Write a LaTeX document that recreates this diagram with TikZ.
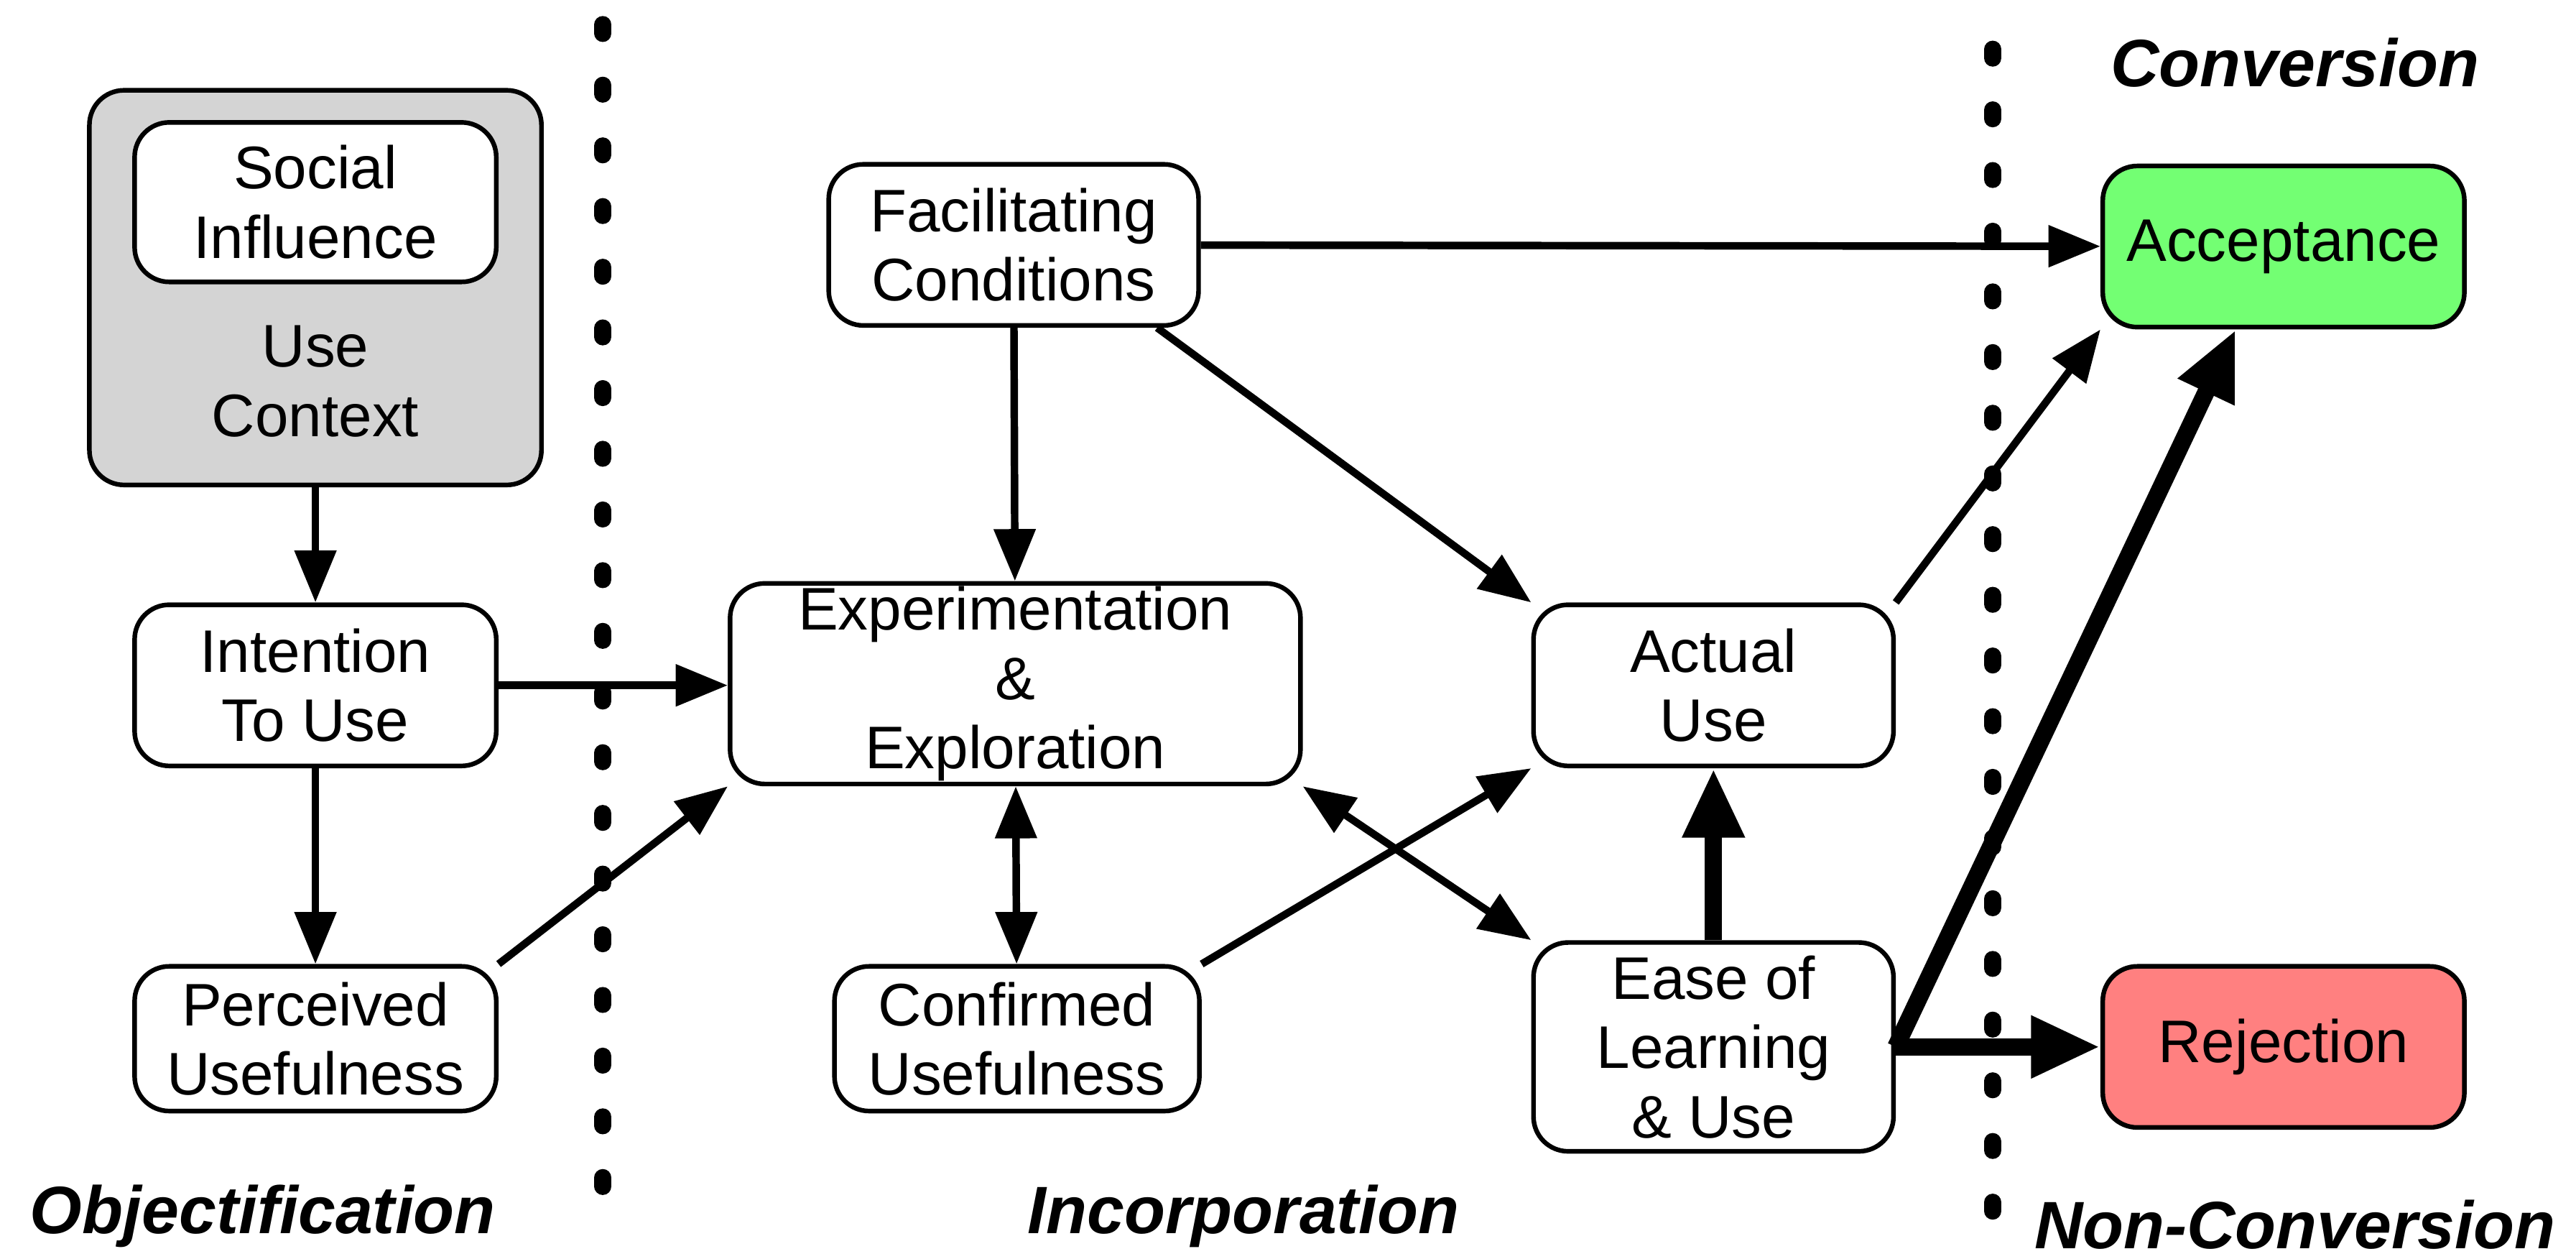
\documentclass[tikz,border=0pt]{standalone}
\usepackage{fontspec}
\setmainfont{Liberation Sans}
\usetikzlibrary{arrows.meta}
\begin{document}
\begin{tikzpicture}[x=0.01cm,y=-0.01cm,
    box/.style={draw,thick,rounded corners=6pt,fill=white,align=center,font=\fontsize{10.4}{12}\selectfont,inner sep=0pt},
    lbl/.style={font=\fontsize{11.6}{13}\selectfont\bfseries\itshape},
    arr/.style={-{Triangle[length=9pt,width=7pt]},line width=1.3pt},
    barr/.style={{Triangle[length=9pt,width=7pt]}-{Triangle[length=9pt,width=7pt]},line width=1.3pt},
    tarr/.style={-{Triangle[length=12pt,width=10pt]},line width=3pt},
    dots/.style={line width=3pt,dash pattern=on 1.5pt off 9pt,line cap=round}]
        \useasboundingbox (0,0) rectangle (1568,763);
        % phase borders
        \draw [dots] (367,15) -- (367,730);
        \draw [dots] (1213,30) -- (1213,760);
        % boxes
        \node [box,fill=black!17,minimum width=2.75cm,minimum height=2.4cm] (context) at (192,175) {};
        \node [box,minimum width=2.2cm,minimum height=0.97cm] (social) at (192,123) {Social\\Influence};
        \node [align=center,font=\fontsize{10.4}{12}\selectfont] (uselbl) at (192,232) {Use\\Context};
        \node [box,minimum width=2.2cm,minimum height=0.98cm] (intention) at (192,417) {Intention\\To Use};
        \node [box,minimum width=2.2cm,minimum height=0.88cm] (perceived) at (192,632) {Perceived\\Usefulness};
        \node [box,minimum width=2.25cm,minimum height=0.98cm] (facil) at (617,149) {Facilitating\\Conditions};
        \node [box,minimum width=3.47cm,minimum height=1.22cm] (exp) at (618,416) {Experimentation\\\&\\Exploration};
        \node [box,minimum width=2.22cm,minimum height=0.88cm] (confirmed) at (619,632) {Confirmed\\Usefulness};
        \node [box,minimum width=2.19cm,minimum height=0.98cm] (actual) at (1043,417) {Actual\\Use};
        \node [box,minimum width=2.19cm,minimum height=1.27cm] (ease) at (1043,637) {Ease of\\Learning\\\& Use};
        \node [box,fill=green!55,minimum width=2.2cm,minimum height=0.98cm] (accept) at (1390,150) {Acceptance};
        \node [box,fill=red!50,minimum width=2.2cm,minimum height=0.98cm] (reject) at (1390,637) {Rejection};
        % phase labels
        \node [lbl] (lobj) at (160,740) {Objectification};
        \node [lbl] (linc) at (757,740) {Incorporation};
        \node [lbl] (lconv) at (1397,38) {Conversion};
        \node [lbl] (lnon) at (1397,745) {Non-Conversion};
        % connectors
        \draw [arr] (context) -- (intention);
        \draw [arr] (intention) -- (perceived);
        \draw [arr] (intention.east) -- (exp.west |- intention.east);
        \draw [arr] (perceived.north east) -- (exp.south west);
        \draw [arr] (facil) -- (exp);
        \draw [arr] (facil) -- (accept);
        \draw [arr] (facil.-30) -- (actual.north west);
        \draw [barr] (exp) -- (confirmed);
        \draw [barr] (exp.south east) -- (ease.north west);
        \draw [arr] (confirmed.north east) -- (actual.south west);
        \draw [arr] (actual.north east) -- (accept.south west);
        \draw [tarr] (ease) -- (actual);
        \draw [tarr] (ease.east) -- (accept.240);
        \draw [tarr] (ease.east) -- (reject);
\end{tikzpicture}
\end{document}
